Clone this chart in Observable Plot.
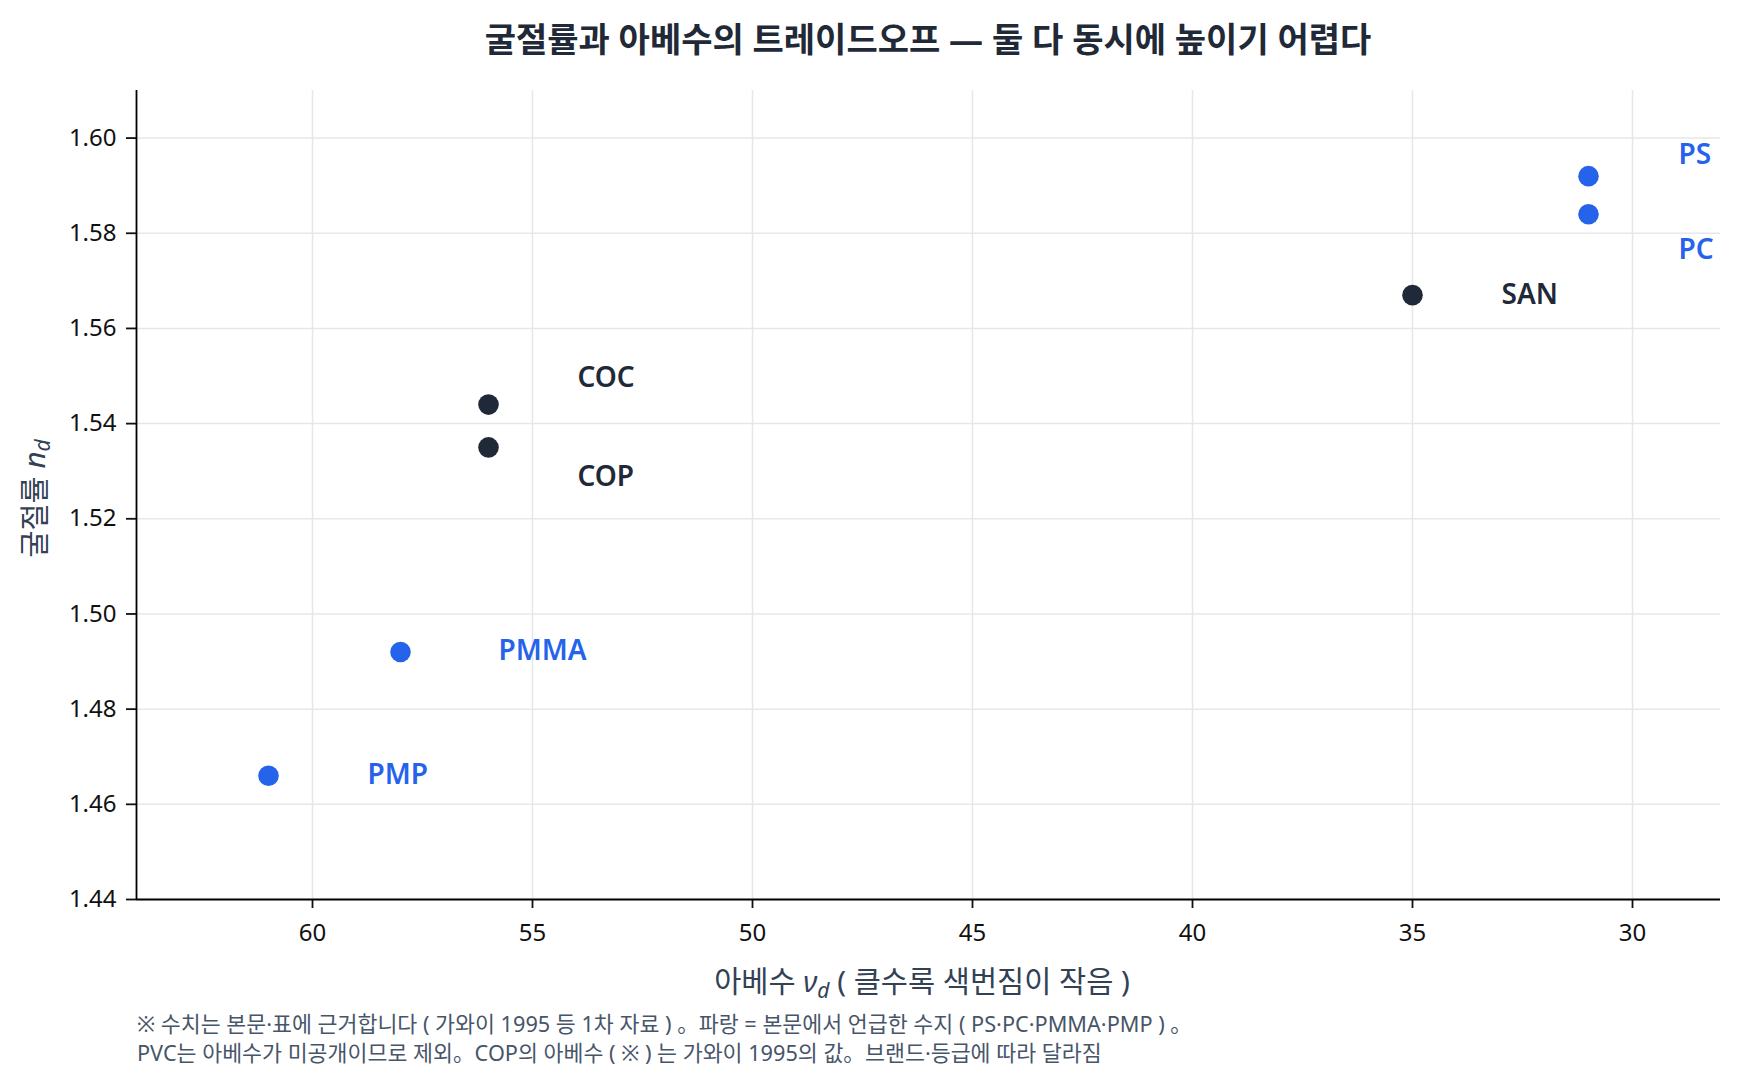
<!DOCTYPE html>
<html><head><meta charset="utf-8">
<script src="https://cdn.jsdelivr.net/npm/d3@7"></script>
<script src="https://cdn.jsdelivr.net/npm/@observablehq/plot@0.6"></script>
<style>
body{margin:0;background:#fff;font-family:"Noto Sans","Noto Sans CJK KR",sans-serif;}
#title{box-sizing:border-box;width:1738px;height:78px;padding:0 18px 0 136px;text-align:center;font-weight:700;font-size:34px;line-height:78px;color:#1f2937;}
#caption{margin:5px 0 0 137px;font-size:21.7px;line-height:28.5px;color:#475569;}
</style></head><body>
<div id="title">굴절률과 아베수의 트레이드오프 — 둘 다 동시에 높이기 어렵다</div>
<div id="chart"></div>
<div id="caption">※ 수치는 본문·표에 근거합니다 ( 가와이 1995 등 1차 자료 ) 。파랑 = 본문에서 언급한 수지 ( PS·PC·PMMA·PMP ) 。<br>PVC는 아베수가 미공개이므로 제외。COP의 아베수 ( ※ ) 는 가와이 1995의 값。브랜드·등급에 따라 달라짐</div>
<script>
// ---- data ----
const resins = ["PS", "PC", "SAN", "COC", "COP", "PMMA", "PMP"];
const abbe   = [31, 31, 35, 56, 56, 58, 61];
const nd     = [1.592, 1.584, 1.567, 1.544, 1.535, 1.492, 1.466];
const mentioned = [true, true, false, false, false, true, true];
const xTicks = [60, 55, 50, 45, 40, 35, 30];
const yTicks = [1.44, 1.46, 1.48, 1.50, 1.52, 1.54, 1.56, 1.58, 1.60];

// ---- label placement (pixels) ----
const labelShift = {PS:[90,-21], PC:[90,36], SAN:[89,0], COC:[89,-27], COP:[89,30], PMMA:[98,-1], PMP:[99,-1]};

const BLUE = "#2563eb", DARK = "#1f2937";
const rows = resins.map((name, i) => ({name, abbe: abbe[i], nd: nd[i], color: mentioned[i] ? BLUE : DARK}));

const W = 1738, H = 927, mT = 12, mB = 106, mL = 136, mR = 18;

const labelMarks = rows.map(r => Plot.text([r], {
  x: "abbe", y: "nd", text: "name", fill: "color",
  textAnchor: "start", lineAnchor: "middle",
  dx: labelShift[r.name][0], dy: labelShift[r.name][1],
  fontSize: 28, fontWeight: 600
}));

const chart = Plot.plot({
  width: W, height: H,
  marginTop: mT, marginBottom: mB, marginLeft: mL, marginRight: mR,
  style: {fontFamily: '"Noto Sans","Noto Sans CJK KR",sans-serif', color: "#111", background: "#fff"},
  x: {domain: [64, 28], label: null},
  y: {domain: [1.44, 1.61], label: null},
  marks: [
    Plot.gridX(xTicks, {stroke: "#e5e7eb", strokeOpacity: 1, strokeWidth: 1.5}),
    Plot.gridY(yTicks, {stroke: "#e5e7eb", strokeOpacity: 1, strokeWidth: 1.5}),
    Plot.axisX(xTicks, {tickSize: 9, tickPadding: 15, fontSize: 24, strokeWidth: 1.8, label: null}),
    Plot.axisY(yTicks, {tickSize: 10, tickPadding: 10, fontSize: 24, strokeWidth: 1.8, tickFormat: d3.format(".2f"), label: null}),
    Plot.ruleY([1.44], {stroke: "#000", strokeWidth: 1.8}),
    Plot.ruleX([64], {stroke: "#000", strokeWidth: 1.8}),
    Plot.dot(rows, {x: "abbe", y: "nd", r: 10.3, fill: "color", stroke: null}),
    ...labelMarks
  ]
});
document.getElementById("chart").appendChild(chart);

// axis titles with italic subscripts
const svg = d3.select(chart);
const yl = svg.append("text")
  .attr("transform", `translate(37,${(mT + H - mB) / 2 + 4}) rotate(-90)`)
  .attr("text-anchor", "middle").attr("dominant-baseline", "middle")
  .attr("fill", "#334155").attr("font-size", 29.5);
yl.append("tspan").text("굴절률 ");
yl.append("tspan").attr("font-style", "italic").text("n");
yl.append("tspan").attr("font-style", "italic").attr("font-size", 21).attr("dy", "0.35em").text("d");

const xl = svg.append("text")
  .attr("x", (mL + W - mR) / 2 - 6).attr("y", 914)
  .attr("text-anchor", "middle")
  .attr("fill", "#334155").attr("font-size", 29.5);
xl.append("tspan").text("아베수 ");
xl.append("tspan").attr("font-style", "italic").text("ν");
xl.append("tspan").attr("font-style", "italic").attr("font-size", 21).attr("dy", "0.3em").text("d");
xl.append("tspan").attr("dy", "-0.2em").text(" ( 클수록 색번짐이 작음 )");
</script>
</body></html>
